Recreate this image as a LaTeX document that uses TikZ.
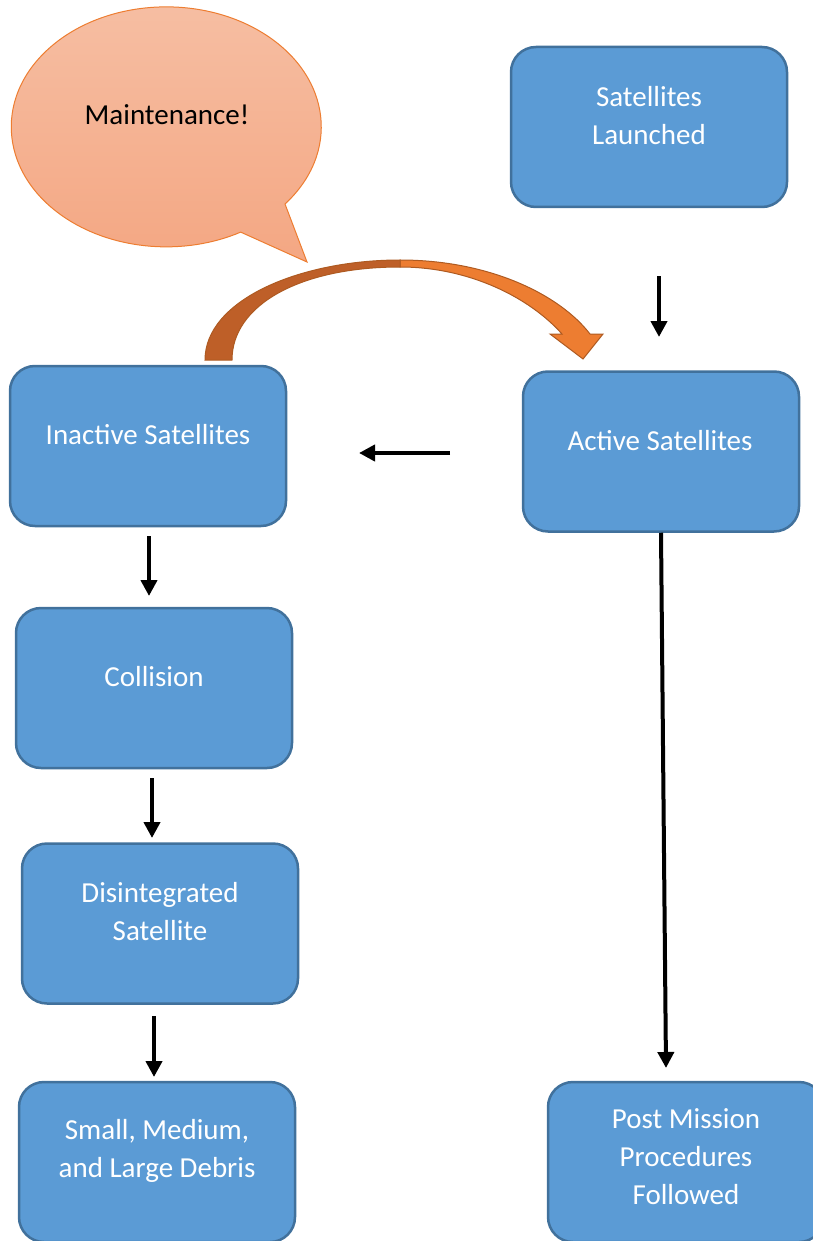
\documentclass[tikz,border=0pt]{standalone}
\usepackage{fontspec}
\setmainfont{Carlito}
\usetikzlibrary{arrows.meta}
\definecolor{boxfill}{HTML}{5B9BD5}
\definecolor{boxline}{HTML}{41719C}
\definecolor{bubtop}{HTML}{F6BFA4}
\definecolor{bubbot}{HTML}{F4A783}
\definecolor{bubline}{HTML}{ED7D31}
\definecolor{arcdark}{HTML}{BE5F28}
\definecolor{arclight}{HTML}{ED7D31}
\definecolor{arcline}{HTML}{AE5A21}
\begin{document}
\begin{tikzpicture}[x=1pt,y=1pt,
  stepbox/.style={draw=boxline, fill=boxfill, line width=2.5pt, rounded corners=25pt,
    minimum width=276pt, minimum height=160pt, inner sep=0pt},
  lbl/.style={text=white, font=\fontsize{29}{38}\selectfont, align=center, inner sep=0pt},
  arr/.style={line width=4pt, -{Triangle[length=16pt,width=16pt]}}]
\useasboundingbox (0,0) rectangle (813,-1241);
\clip (0,0) rectangle (813,-1241);
% speech bubble
\shade[top color=bubtop, bottom color=bubbot, draw=bubline, line width=1pt]
  (285,-204) arc[start angle=-40, end angle=298.7, x radius=155, y radius=120]
  -- (307,-262) -- cycle;
\node[font=\fontsize{29}{36}\selectfont, inner sep=0pt] (maint) at (167,-115) {Maintenance!};
% boxes
\node[stepbox] (launched) at (649,-127) {};
\node[lbl] at (649,-116) {Satellites\\Launched};
\node[stepbox] (active) at (661,-451.5) {};
\node[lbl] at (660,-441) {Active Satellites};
\node[stepbox] (inactive) at (148,-446) {};
\node[lbl] at (148,-435) {Inactive Satellites};
\node[stepbox] (collision) at (154,-688) {};
\node[lbl] at (154,-677) {Collision};
\node[stepbox] (disint) at (160,-923.5) {};
\node[lbl] at (160,-912) {Disintegrated\\Satellite};
\node[stepbox] (debris) at (157,-1162) {};
\node[lbl] at (157,-1151) {Small, Medium,\\and Large Debris};
\node[stepbox] (post) at (686,-1162) {};
\node[lbl] at (686,-1157) {Post Mission\\Procedures\\Followed};
% connector end points
\coordinate (a1s) at (659,-276); \coordinate (a1e) at (659,-337);
\coordinate (a2s) at (450,-453); \coordinate (a2e) at (359,-453);
\coordinate (a3s) at (149,-536); \coordinate (a3e) at (149,-596);
\coordinate (a4s) at (152,-778); \coordinate (a4e) at (152,-838);
\coordinate (a5s) at (154,-1016); \coordinate (a5e) at (154,-1077);
\coordinate (a6e) at (666,-1068);
\draw[arr] (a1s) -- (a1e);
\draw[arr] (a2s) -- (a2e);
\draw[arr] (a3s) -- (a3e);
\draw[arr] (a4s) -- (a4e);
\draw[arr] (a5s) -- (a5e);
\draw[arr] (active.south) -- (a6e);
% curved arrow (maintenance loop)
\filldraw[fill=arclight, draw=arcline, line width=1pt, line join=miter]
  (400,-260) .. controls (490,-260) and (560,-295) .. (590,-334)
  -- (603,-334) -- (583,-359) -- (550,-334) -- (562,-334)
  .. controls (530,-298) and (470,-267) .. (400,-267) -- cycle;
\filldraw[fill=arcdark, draw=arcline, line width=1pt]
  (205,-360) .. controls (205,-300) and (300,-260) .. (400,-260)
  -- (400,-267) .. controls (300,-267) and (232,-305) .. (232,-360) -- cycle;
\end{tikzpicture}
\end{document}
